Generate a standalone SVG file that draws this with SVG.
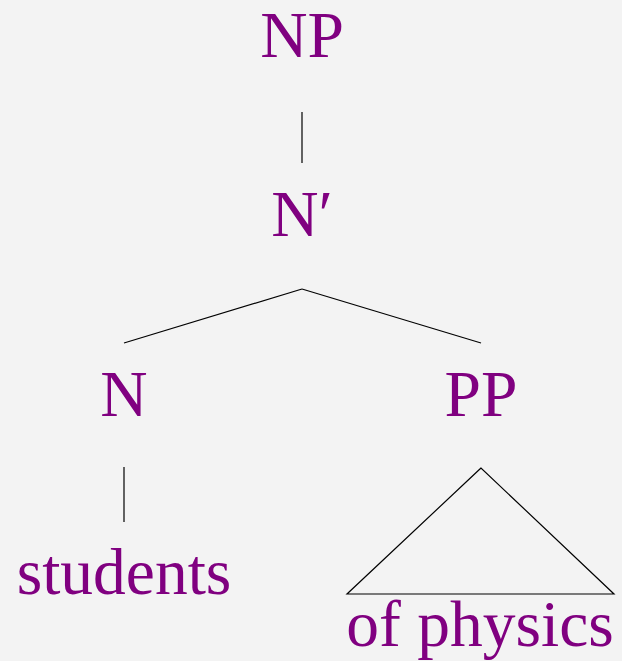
<svg xmlns="http://www.w3.org/2000/svg" width="622" height="661" viewBox="0 0 622 661">
<style>
.t{font-family:"Liberation Serif","Times New Roman",serif;font-size:65.5px;fill:#800080;text-anchor:middle}
.l{stroke:#000;stroke-width:1.2;fill:none}
</style>
<rect width="622" height="661" fill="#f3f3f3"/>
<g id="connectors">
<line class="l" x1="302" y1="112" x2="302" y2="163"/>
<line class="l" x1="302" y1="289" x2="124" y2="343"/>
<line class="l" x1="302" y1="289" x2="481" y2="343"/>
<line class="l" x1="124" y1="467" x2="124" y2="522"/>
<polygon class="l" points="481,468 347,594 614,594"/>
</g>
<g id="np"><text class="t" x="302" y="57">NP</text></g>
<g id="nbar"><text class="t" x="302" y="236">N′</text></g>
<g id="n"><text class="t" x="124" y="416">N</text></g>
<g id="pp"><text class="t" x="481" y="416">PP</text></g>
<g id="students"><text class="t" x="124" y="594">students</text></g>
<g id="ofphysics"><text class="t" x="480" y="646">of physics</text></g>
</svg>
